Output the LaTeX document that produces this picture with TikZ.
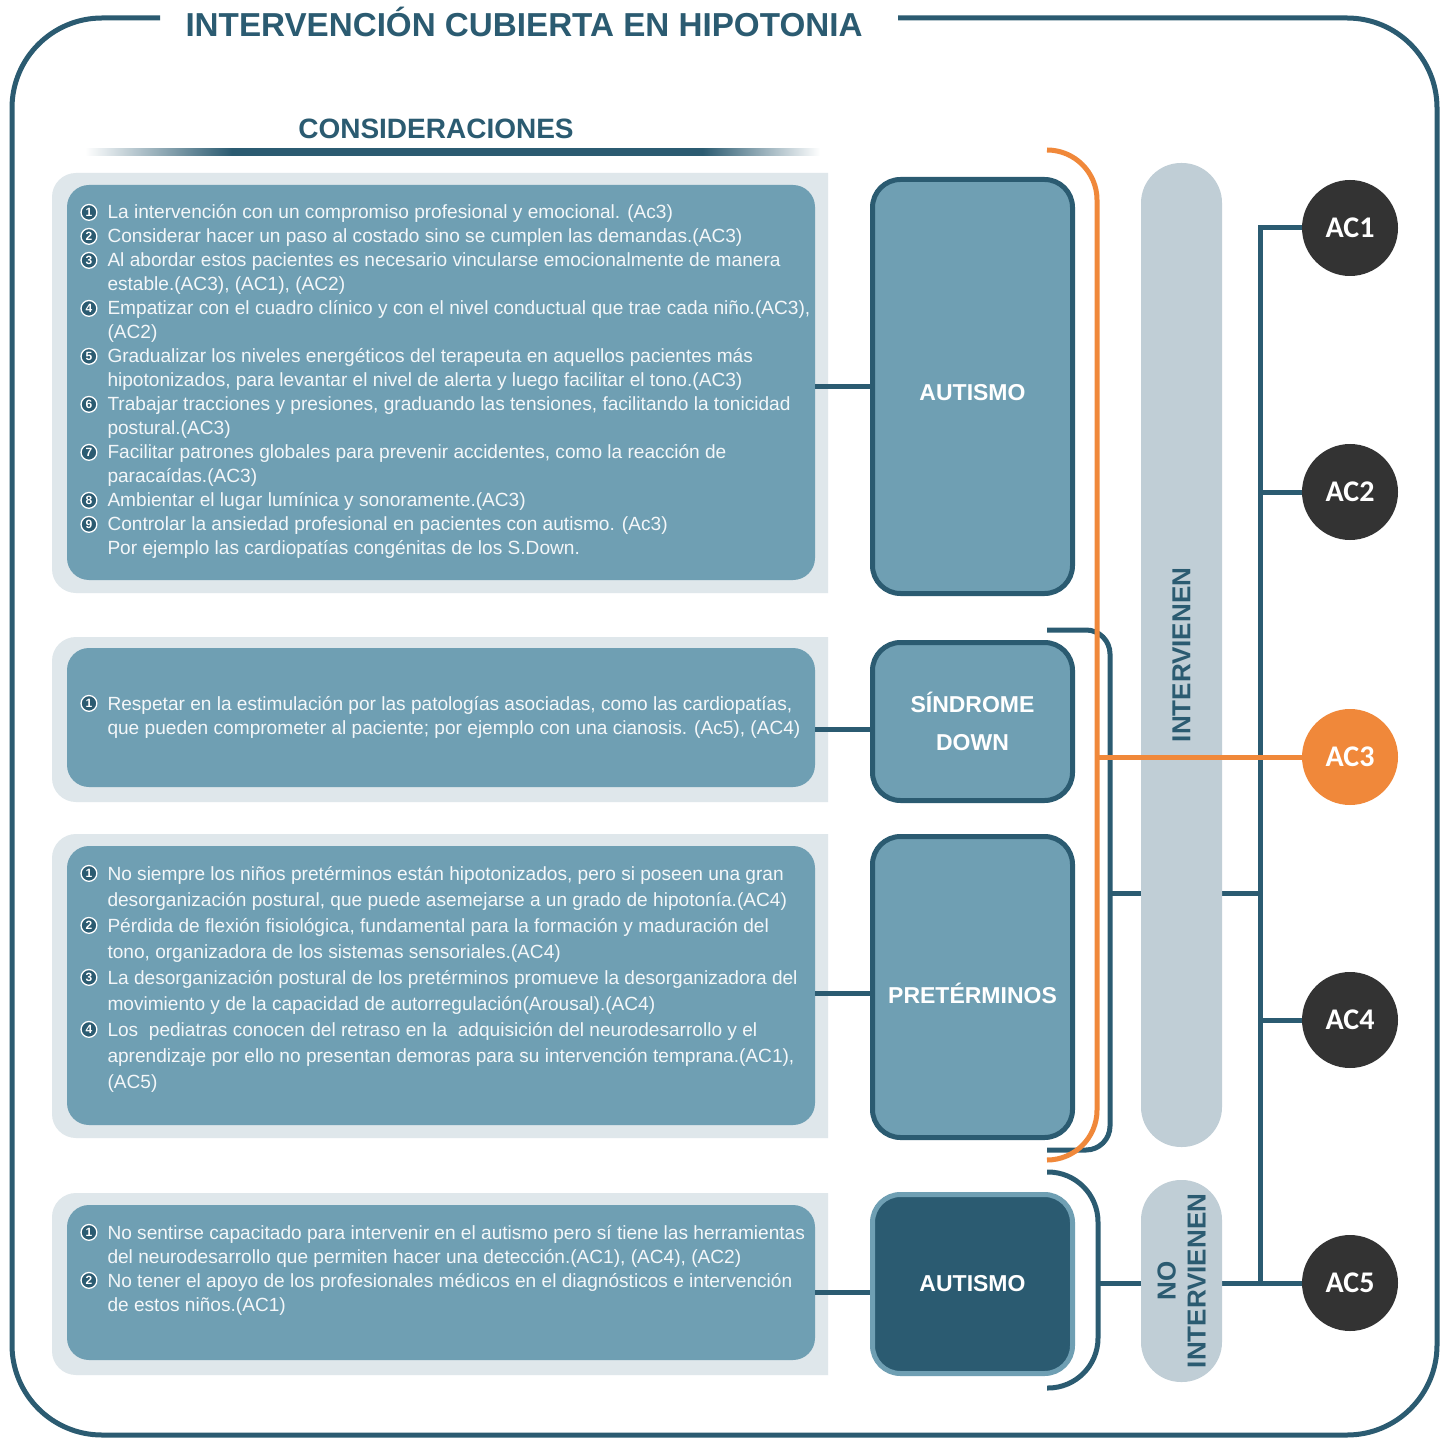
\documentclass[tikz,border=0pt]{standalone}
\usepackage{fontspec}
\setmainfont{Liberation Sans}
\newfontfamily\carlito{Carlito}
\usetikzlibrary{calc}
\definecolor{dk}{HTML}{2B5B71}
\definecolor{boxc}{HTML}{6F9FB3}
\definecolor{bgc}{HTML}{DFE7EB}
\definecolor{pillc}{HTML}{C0CED6}
\definecolor{orc}{HTML}{F0883A}
\definecolor{acdark}{HTML}{333333}
\definecolor{txtc}{HTML}{F4F7F9}
\pgfdeclarehorizontalshading{fadeline}{100bp}{color(0bp)=(white); color(25bp)=(white); color(35bp)=(dk); color(67bp)=(dk); color(75bp)=(white); color(100bp)=(white)}
\newcommand{\cn}[1]{\tikz[x=1cm,y=1cm,baseline=-3.3pt]\node[anchor=center,circle,fill=dk,draw=white,line width=0.65pt,inner sep=0pt,outer sep=0pt,minimum size=7.9pt,text=white,font=\bfseries\fontsize{6}{6}\selectfont] at (0,0) {#1};}
\begin{document}
\begin{tikzpicture}[x=0.5pt,y=-0.5pt,
  dkline/.style={draw=dk,line width=2.5pt},
  orline/.style={draw=orc,line width=2.5pt},
  tbox/.style={rectangle,fill=boxc,rounded corners=11pt,minimum width=374pt,inner sep=0pt},
  txtnode/.style={text=txtc,inner sep=0pt,anchor=base west},
  catbox/.style={rectangle,draw=dk,line width=2.5pt,fill=boxc,rounded corners=14pt,minimum width=100pt,
     text=white,font=\bfseries\fontsize{11.5}{19}\selectfont,align=center,inner sep=0pt},
  pill/.style={rectangle,fill=pillc,rounded corners=20pt,rotate=90,minimum height=40.5pt,inner sep=0pt,
     text=dk,font=\bfseries\fontsize{13}{15}\selectfont,align=center},
  acnode/.style={circle,fill=acdark,minimum size=48pt,inner sep=0pt,text=white,font=\carlito\bfseries\fontsize{15}{18}\selectfont}]
\useasboundingbox (0,0) rectangle (1449,1438);
\fill[white] (0,0) rectangle (1449,1438);

% outer frame
\draw[dkline,rounded corners=45pt] (160,18) -- (12,18) -- (12,1435) -- (1437,1435) -- (1437,18) -- (898,18);
\node[anchor=base,inner sep=0pt,text=dk,font=\bfseries\fontsize{16.6}{20}\selectfont] (title) at (524,37) {INTERVENCIÓN CUBIERTA EN HIPOTONIA};

% consideraciones header
\node[anchor=base,inner sep=0pt,text=dk,font=\bfseries\fontsize{14}{16}\selectfont] (cons) at (436,139) {CONSIDERACIONES};
\shade[shading=fadeline] (85,149) rectangle (820,156);

% grey backgrounds
\fill[bgc] (828,593) [rounded corners=12pt] -- (52,593) -- (52,173) [sharp corners] -- (828,173) -- cycle;
\fill[bgc] (828,802) [rounded corners=12pt] -- (52,802) -- (52,637) [sharp corners] -- (828,637) -- cycle;
\fill[bgc] (828,1138) [rounded corners=12pt] -- (52,1138) -- (52,834) [sharp corners] -- (828,834) -- cycle;
\fill[bgc] (828,1375) [rounded corners=12pt] -- (52,1375) -- (52,1193) [sharp corners] -- (828,1193) -- cycle;

% text boxes
\node[tbox,minimum height=197.5pt] (tb1) at (441,382.5) {};
\node[tbox,minimum height=69.5pt] (tb2) at (441,717.5) {};
\node[tbox,minimum height=139.5pt] (tb3) at (441,985.5) {};
\node[tbox,minimum height=77.5pt] (tb4) at (441,1282.5) {};

\node[txtnode,font=\fontsize{9.55}{12}\selectfont] (t1) at (80,219) {\begin{tabular}[t]{@{}l@{\hspace{5pt}}l@{}}
\cn{1} & La intervención con un compromiso profesional y emocional. (Ac3)\\
\cn{2} & Considerar hacer un paso al costado sino se cumplen las demandas.(AC3)\\
\cn{3} & Al abordar estos pacientes es necesario vincularse emocionalmente de manera\\
 & estable.(AC3), (AC1), (AC2)\\
\cn{4} & Empatizar con el cuadro clínico y con el nivel conductual que trae cada niño.(AC3),\\
 & (AC2)\\
\cn{5} & Gradualizar los niveles energéticos del terapeuta en aquellos pacientes más\\
 & hipotonizados, para levantar el nivel de alerta y luego facilitar el tono.(AC3)\\
\cn{6} & Trabajar tracciones y presiones, graduando las tensiones, facilitando la tonicidad\\
 & postural.(AC3)\\
\cn{7} & Facilitar patrones globales para prevenir accidentes, como la reacción de\\
 & paracaídas.(AC3)\\
\cn{8} & Ambientar el lugar lumínica y sonoramente.(AC3)\\
\cn{9} & Controlar la ansiedad profesional en pacientes con autismo. (Ac3)\\
 & Por ejemplo las cardiopatías congénitas de los S.Down.
\end{tabular}};

\node[txtnode,font=\fontsize{9.55}{12}\selectfont] (t2) at (80,710) {\begin{tabular}[t]{@{}l@{\hspace{5pt}}l@{}}
\cn{1} & Respetar en la estimulación por las patologías asociadas, como las cardiopatías,\\
 & que pueden comprometer al paciente; por ejemplo con una cianosis. (Ac5), (AC4)
\end{tabular}};

\node[txtnode,font=\fontsize{9.55}{13}\selectfont] (t3) at (80,880) {\begin{tabular}[t]{@{}l@{\hspace{5pt}}l@{}}
\cn{1} & No siempre los niños pretérminos están hipotonizados, pero si poseen una gran\\
 & desorganización postural, que puede asemejarse a un grado de hipotonía.(AC4)\\
\cn{2} & Pérdida de flexión fisiológica, fundamental para la formación y maduración del\\
 & tono, organizadora de los sistemas sensoriales.(AC4)\\
\cn{3} & La desorganización postural de los pretérminos promueve la desorganizadora del\\
 & movimiento y de la capacidad de autorregulación(Arousal).(AC4)\\
\cn{4} & Los~ pediatras conocen del retraso en la~ adquisición del neurodesarrollo y el\\
 & aprendizaje por ello no presentan demoras para su intervención temprana.(AC1),\\
 & (AC5)
\end{tabular}};

\node[txtnode,font=\fontsize{9.55}{12}\selectfont] (t4) at (80,1239) {\begin{tabular}[t]{@{}l@{\hspace{5pt}}l@{}}
\cn{1} & No sentirse capacitado para intervenir en el autismo pero sí tiene las herramientas\\
 & del neurodesarrollo que permiten hacer una detección.(AC1), (AC4), (AC2)\\
\cn{2} & No tener el apoyo de los profesionales médicos en el diagnósticos e intervención\\
 & de estos niños.(AC1)
\end{tabular}};

% category boxes
\node[catbox,minimum height=207pt] (c1) at (972.5,386.5) {\raisebox{-6.9pt}[0pt][0pt]{AUTISMO}};
\node[catbox,minimum height=79pt] (c2) at (972.5,721.5) {SÍNDROME\\DOWN};
\node[catbox,minimum height=150.5pt] (c3) at (972.5,987) {\raisebox{-8.1pt}[0pt][0pt]{PRETÉRMINOS}};
\node[catbox,minimum height=89.5pt,fill=dk,draw=boxc] (c4) at (972.5,1284) {AUTISMO};

% connectors text box -> category
\draw[dkline] (tb1.east |- c1.west) -- (c1.west);
\draw[dkline] (tb2.east |- 0,729) -- (c2.west |- 0,729);
\draw[dkline] (tb3.east |- 0,993) -- (c3.west |- 0,993);
\draw[dkline] (tb4.east |- 0,1292) -- (c4.west |- 0,1292);

% AC circles
\node[acnode] (ac1) at (1350,228) {AC1};
\node[acnode] (ac2) at (1350,492) {AC2};
\node[acnode,fill=orc] (ac3) at (1350,757) {AC3};
\node[acnode] (ac4) at (1350,1020) {AC4};
\node[acnode] (ac5) at (1350,1283) {AC5};

% right trunk
\coordinate (vt) at (1260,228);
\draw[dkline] (ac1.west) -- (ac1.west -| vt) -- (ac5.west -| vt) -- (ac5.west);
\draw[dkline] (ac2.west) -- (ac2.west -| vt);
\draw[dkline] (ac4.west) -- (ac4.west -| vt);

% dark brackets and their links
\coordinate (b2) at (1110,893);
\coordinate (b3) at (1098,1283);
\draw[dkline,rounded corners=12pt] (1047,630) -| (1110,1150) -- (1047,1150);
\draw[dkline,rounded corners=25pt] (1047,1172) -| (1098,1388) -- (1047,1388);
\draw[dkline] (b2) -- (b2 -| vt);
\draw[dkline] (b3) -- (ac5.west);

% pills
\node[pill,minimum width=492pt] (p1) at (1181.5,655) {INTERVIENEN};
\node[pill,minimum width=101pt] (p2) at (1181.5,1281) {NO\\INTERVIENEN};

% orange bracket
\coordinate (ob) at (1097,757);
\draw[orline,rounded corners=25pt] (1047,150) -| (1097,1160) -- (1047,1160);
\draw[orline] (ob) -- (ac3.west);
\end{tikzpicture}
\end{document}
